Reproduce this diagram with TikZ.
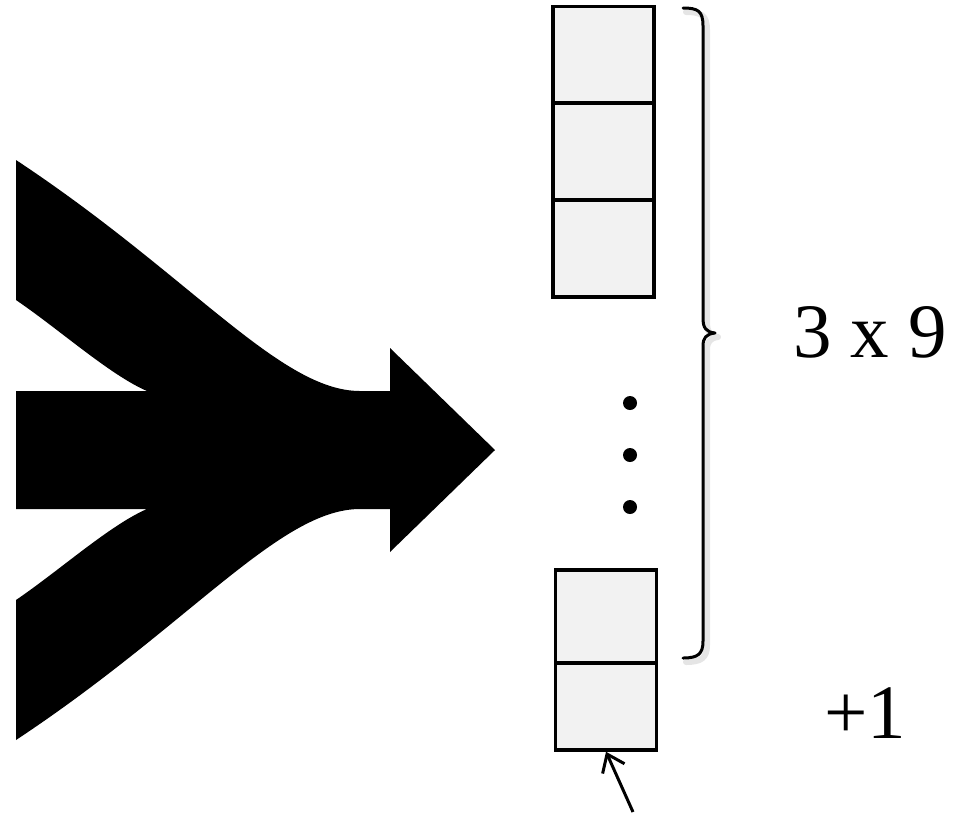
\documentclass[tikz,border=0pt]{standalone}
\usepackage{fontspec}
\setmainfont{Liberation Serif}
\usetikzlibrary{arrows.meta}
\begin{document}
\begin{tikzpicture}[x=1pt,y=-1pt,
  cell/.style={draw=black, line width=3.5pt, fill=black!5, inner sep=0pt, minimum width=101pt},
  dotnode/.style={circle, fill=black, inner sep=0pt, minimum size=14pt},
  bigtext/.style={font=\fontsize{77}{80}\selectfont, inner sep=0pt, anchor=base},
  bracepath/.style={line width=3pt, line cap=round, line join=round}]
\useasboundingbox (0,0) rectangle (957,815);
% big merging arrow
\fill[black] (16,160) .. controls (190,275) and (280,391) .. (360,391) -- (390,391) -- (390,348)
  -- (495,450) -- (390,552) -- (390,509) -- (360,509)
  .. controls (280,509) and (190,625) .. (16,740) -- (16,600)
  .. controls (60,570) and (110,525) .. (147,509) -- (16,509) -- (16,391) -- (147,391)
  .. controls (110,375) and (60,330) .. (16,300) -- cycle;
% stacked cells
\node[cell, minimum height=97pt] (b1) at (603.5,55) {};
\node[cell, minimum height=97pt] (b2) at (603.5,151.5) {};
\node[cell, minimum height=97pt] (b3) at (603.5,248.5) {};
\node[cell, minimum height=93pt] (b4) at (606,616.5) {};
\node[cell, minimum height=87pt] (b5) at (606,706.5) {};
% dots
\node[dotnode] (d1) at (630,403) {};
\node[dotnode] (d2) at (630,455) {};
\node[dotnode] (d3) at (630,507) {};
% brace shadow and brace
\draw[bracepath, black!10, line width=6pt] (686,12) .. controls (701,12) and (707,15) .. (707,30) -- (707,322)
  .. controls (707,332) and (710,336) .. (718,337) .. controls (710,338) and (707,342) .. (707,350)
  -- (707,645) .. controls (707,658) and (701,662) .. (686,662);
\draw[bracepath] (683,8) .. controls (698,8) and (703,11) .. (703,26) -- (703,318)
  .. controls (703,328) and (706,332) .. (715,333) .. controls (706,334) and (703,338) .. (703,346)
  -- (703,641) .. controls (703,654) and (698,658) .. (683,658);
% labels
\node[bigtext] (t1) at (870,357) {3 x 9};
\node[bigtext] (t2) at (865,738) {+1};
% bottom pointer
\coordinate (tail) at (633,812);
\draw[line width=3pt, -{Straight Barb[length=16pt,width=24pt]}] (tail) -- (b5.south);
\end{tikzpicture}
\end{document}
